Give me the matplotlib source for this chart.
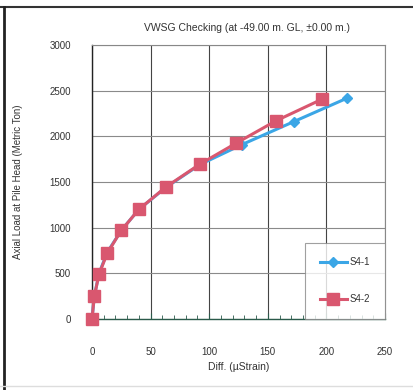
import matplotlib
matplotlib.use("Agg")
import matplotlib.pyplot as plt
from matplotlib.lines import Line2D
from matplotlib.ticker import MultipleLocator

plt.rcParams["font.family"] = ["Liberation Sans", "DejaVu Sans"]

# data
diff_s41 = [0, 2, 6, 13, 25, 40, 63, 92, 128, 172, 218]
load_s41 = [0, 250, 500, 730, 970, 1200, 1440, 1690, 1910, 2160, 2420]
diff_s42 = [0, 2, 6, 13, 25, 40, 63, 92, 123, 157, 196]
load_s42 = [0, 250, 490, 720, 970, 1200, 1445, 1695, 1925, 2170, 2405]
series_labels = ["S4-1", "S4-2"]

W, H = 413, 390
fig = plt.figure(figsize=(W / 100, H / 100), dpi=100)
fig.patch.set_facecolor("white")

# plot area in pixels: left 92, right 385, top 45, bottom 319
ax = fig.add_axes([92 / W, 1 - 319 / H, (385 - 92) / W, (319 - 45) / H])

ax.plot(diff_s41, load_s41, color="#3ba6e6", lw=2.2, marker="D", ms=5,
        label=series_labels[0], zorder=3, clip_on=False)
ax.plot(diff_s42, load_s42, color="#d9576f", lw=2.2, marker="s", ms=8.5,
        label=series_labels[1], zorder=4, clip_on=False)

ax.set_xlim(0, 250)
ax.set_ylim(0, 3000)
ax.xaxis.set_major_locator(MultipleLocator(50))
ax.xaxis.set_minor_locator(MultipleLocator(10))
ax.yaxis.set_major_locator(MultipleLocator(500))

ax.xaxis.grid(True, which="major", color="#444444", lw=0.8)
ax.yaxis.grid(True, which="major", color="#8a8a8a", lw=0.8)
ax.set_axisbelow(True)

for s in ["top", "right"]:
    ax.spines[s].set_color("#888888")
    ax.spines[s].set_linewidth(0.8)
ax.spines["left"].set_color("#222222")
ax.spines["left"].set_linewidth(1.0)
ax.spines["bottom"].set_color("#2a5a4a")
ax.spines["bottom"].set_linewidth(1.0)

ax.tick_params(axis="y", length=0, pad=15, labelsize=7, colors="#333333")
ax.tick_params(axis="x", which="major", direction="in", length=4, pad=20,
               labelsize=7, colors="#333333")
ax.tick_params(axis="x", which="minor", direction="in", length=3, color="#2a5a4a")
ax.tick_params(axis="x", which="major", color="#2a5a4a")

ax.set_xlabel("Diff. (\u00b5Strain)", fontsize=7.5, color="#333333", labelpad=4)
ax.set_ylabel("Axial Load at Pile Head (Metric Ton)", fontsize=7,
              color="#333333", labelpad=19)
ax.set_title("VWSG Checking (at -49.00 m. GL, \u00b10.00 m.)", fontsize=7.5,
             color="#333333", pad=10, x=0.53)

leg = ax.legend(loc="lower right", bbox_to_anchor=(1.0, 0.0), fontsize=7,
                frameon=True, fancybox=False, labelspacing=2.8,
                handlelength=2.8, handletextpad=0.3, borderpad=1.5,
                borderaxespad=0.0)
leg.get_frame().set_edgecolor("#888888")
leg.get_frame().set_linewidth(0.8)
for t in leg.get_texts():
    t.set_color("#333333")

# outer frame of the scanned chart
fig.add_artist(Line2D([0, 1], [1 - 6.5 / H, 1 - 6.5 / H], color="#333333", lw=1.5))
fig.add_artist(Line2D([3.5 / W, 3.5 / W], [0, 1 - 6.5 / H], color="#222222", lw=2.0))
fig.add_artist(Line2D([0, 1], [4 / H, 4 / H], color="#dddddd", lw=1.0))

fig.savefig("out.png", dpi=100)
